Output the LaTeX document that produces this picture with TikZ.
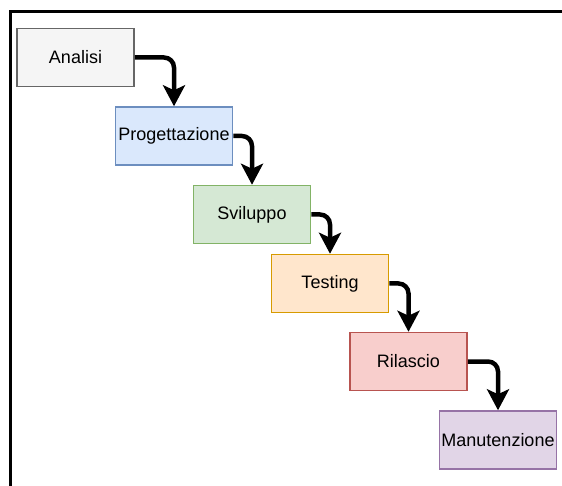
\documentclass[tikz,border=0pt]{standalone}
\usepackage{fontspec}
\setmainfont{Liberation Sans}
\usetikzlibrary{arrows.meta}

% Process phase colours
\definecolor{grayfill}{HTML}{F5F5F5}\definecolor{graydraw}{HTML}{666666}
\definecolor{bluefill}{HTML}{DAE8FC}\definecolor{bluedraw}{HTML}{6C8EBF}
\definecolor{greenfill}{HTML}{D5E8D4}\definecolor{greendraw}{HTML}{82B366}
\definecolor{orangefill}{HTML}{FFE6CC}\definecolor{orangedraw}{HTML}{D79B00}
\definecolor{redfill}{HTML}{F8CECC}\definecolor{reddraw}{HTML}{B85450}
\definecolor{purplefill}{HTML}{E1D5E7}\definecolor{purpledraw}{HTML}{9673A6}

\tikzset{
  phase/.style={draw, line width=1.5pt, minimum width=117pt, minimum height=58pt,
    inner sep=0pt, font=\fontsize{18}{20}\selectfont, text=black},
  flow/.style={line width=4.5pt, rounded corners=10pt,
    -{Stealth[length=21pt, width=22pt, inset=5pt]}},
  frameline/.style={line width=3pt, black}
}

\begin{document}
\begin{tikzpicture}[x=1pt, y=-1pt]
  \useasboundingbox[fill=white] (0,0) rectangle (562,486);

  % outer frame (top and left edges)
  \draw[frameline] (10.7,500) -- (10.7,11.7) -- (580,11.7);

  % phases
  \node[phase, fill=grayfill, draw=graydraw]     (analisi) at (75.5,57.5)  {Analisi};
  \node[phase, fill=bluefill, draw=bluedraw]     (prog)    at (174,136)    {Progettazione};
  \node[phase, fill=greenfill, draw=greendraw]   (svil)    at (252,214.5)  {Sviluppo};
  \node[phase, fill=orangefill, draw=orangedraw] (test)    at (330,283.5)  {Testing};
  \node[phase, fill=redfill, draw=reddraw]       (rila)    at (408.5,361.5) {Rilascio};
  \node[phase, fill=purplefill, draw=purpledraw] (manu)    at (498,440)    {Manutenzione};

  % flow between phases
  \draw[flow] (analisi.east) -| (prog.north);
  \draw[flow] (prog.east) -| (svil.north);
  \draw[flow] (svil.east) -| (test.north);
  \draw[flow] (test.east) -| (rila.north);
  \draw[flow] (rila.east) -| (manu.north);
\end{tikzpicture}
\end{document}
